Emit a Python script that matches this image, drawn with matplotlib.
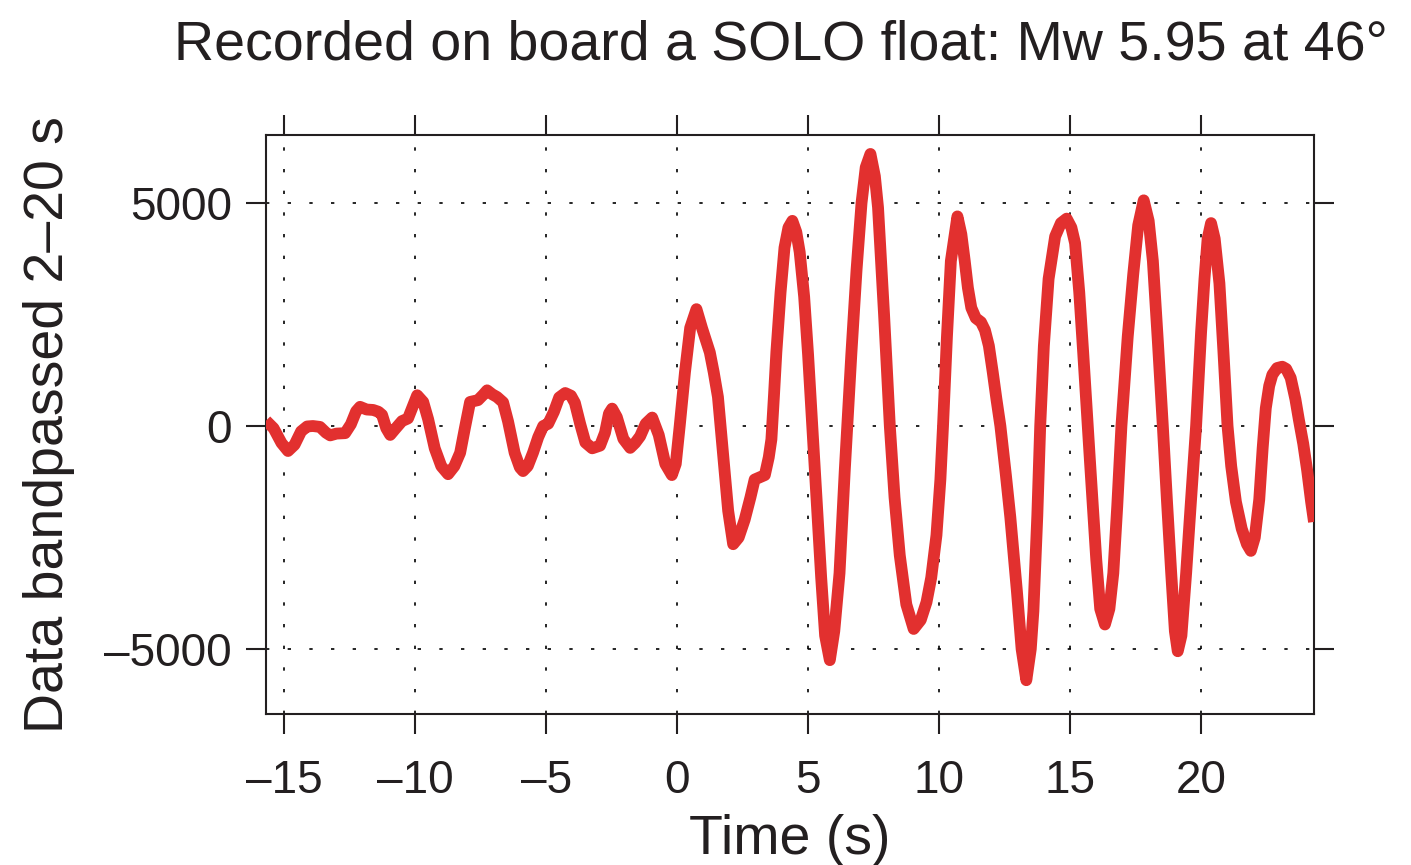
import numpy as np
import matplotlib
matplotlib.use("Agg")
import matplotlib.pyplot as plt

plt.rcParams['font.family'] = ['Liberation Sans', 'DejaVu Sans']

# trace: time (s) and bandpassed counts
time_s = [
    -15.69, -15.4, -15.1, -14.85, -14.6, -14.35, -14.12, -13.9, -13.63, -13.4,
    -13.24, -13.0, -12.67, -12.45, -12.25, -12.1, -11.85, -11.6, -11.4, -11.26,
    -11.1, -10.95, -10.75, -10.5, -10.27, -10.1, -9.92, -9.69, -9.5, -9.25,
    -9.0, -8.74, -8.5, -8.28, -8.1, -7.9, -7.6, -7.4, -7.25, -7.05,
    -6.87, -6.64, -6.45, -6.2, -6.0, -5.88, -5.7, -5.5, -5.3, -5.11,
    -4.92, -4.7, -4.5, -4.27, -4.05, -3.9, -3.7, -3.5, -3.24, -2.94,
    -2.75, -2.6, -2.48, -2.3, -2.05, -1.79, -1.6, -1.41, -1.2, -0.95,
    -0.7, -0.45, -0.2, -0.05, 0.1, 0.3, 0.5, 0.74, 0.95, 1.25,
    1.4, 1.56, 1.75, 1.95, 2.14, 2.35, 2.58, 2.8, 2.96, 3.15,
    3.35, 3.5, 3.6, 3.7, 3.79, 3.95, 4.1, 4.25, 4.4, 4.55,
    4.68, 4.85, 5.0, 5.15, 5.32, 5.5, 5.65, 5.83, 6.0, 6.2,
    6.4, 6.65, 6.85, 7.04, 7.2, 7.38, 7.55, 7.67, 7.9, 8.12,
    8.3, 8.5, 8.75, 9.03, 9.3, 9.52, 9.7, 9.9, 10.05, 10.15,
    10.3, 10.45, 10.7, 10.85, 10.98, 11.1, 11.23, 11.4, 11.6, 11.75,
    11.9, 12.05, 12.19, 12.34, 12.55, 12.72, 12.97, 13.15, 13.33, 13.5,
    13.6, 13.75, 13.86, 14.0, 14.18, 14.43, 14.65, 14.87, 15.05, 15.19,
    15.35, 15.5, 15.76, 16.0, 16.15, 16.33, 16.5, 16.65, 16.8, 16.96,
    17.2, 17.41, 17.6, 17.81, 18.0, 18.16, 18.35, 18.54, 18.7, 18.86,
    19.0, 19.11, 19.25, 19.43, 19.6, 19.81, 20.0, 20.13, 20.25, 20.38,
    20.52, 20.7, 20.85, 21.01, 21.15, 21.33, 21.55, 21.75, 21.9, 22.05,
    22.22, 22.35, 22.47, 22.6, 22.72, 22.9, 23.1, 23.25, 23.42, 23.6,
    23.73, 23.9, 24.05, 24.2, 24.31,
]
counts = [
    120, -50, -380, -560, -420, -120, -10, 0, -20, -150,
    -210, -170, -160, 40, 330, 430, 370, 360, 320, 250,
    -50, -200, -60, 110, 170, 420, 690, 540, 150, -500,
    -900, -1080, -900, -600, -50, 540, 580, 700, 800, 710,
    650, 530, 100, -600, -930, -1010, -900, -600, -250, 0,
    50, 320, 640, 740, 680, 520, 50, -370, -500, -440,
    -150, 280, 390, 200, -290, -490, -380, -230, 50, 190,
    -200, -850, -1100, -850, 0, 1200, 2200, 2620, 2200, 1650,
    1200, 650, -600, -1900, -2650, -2500, -2100, -1600, -1200, -1150,
    -1100, -700, -300, 700, 1660, 3000, 4000, 4450, 4600, 4350,
    3900, 2900, 1600, 100, -1600, -3400, -4700, -5250, -4600, -3300,
    -1000, 1600, 3500, 5000, 5800, 6100, 5600, 4900, 2500, 0,
    -1600, -2900, -4000, -4550, -4350, -3950, -3400, -2450, -1200, 0,
    2000, 3700, 4700, 4300, 3700, 3100, 2650, 2420, 2330, 2150,
    1800, 1200, 600, 0, -1100, -2050, -3700, -5000, -5700, -5000,
    -4150, -2000, 0, 1800, 3300, 4250, 4550, 4650, 4450, 4100,
    3000, 1650, -800, -3000, -4100, -4450, -4100, -3300, -1800, 0,
    2000, 3400, 4500, 5060, 4600, 3700, 1900, 0, -1700, -3300,
    -4600, -5050, -4700, -3300, -1800, 0, 2100, 3300, 4200, 4550,
    4200, 3200, 1700, 0, -900, -1700, -2300, -2650, -2800, -2500,
    -1650, -500, 400, 900, 1150, 1300, 1330, 1280, 1080, 600,
    150, -400, -1000, -1700, -2150,
]

x_ticks = [-15, -10, -5, 0, 5, 10, 15, 20]
y_ticks = [-5000, 0, 5000]
title = "Recorded on board a SOLO float: Mw 5.95 at 46\u00b0"

ink = '#231f20'
red = '#e2302f'

fig = plt.figure(figsize=(14.11, 8.65), dpi=100)
ax = fig.add_axes([266 / 1411, 1 - 714 / 865, 1048 / 1411, 579 / 865])

ax.plot(time_s, counts, color=red, lw=8.5, solid_joinstyle='round',
        solid_capstyle='butt', zorder=3)

ax.set_xlim(-15.69, 24.31)
ax.set_ylim(-6457, 6525)
ax.set_xticks(x_ticks)
ax.set_yticks(y_ticks)
ax.set_xticklabels([f"\u2013{-v}" if v < 0 else str(v) for v in x_ticks])
ax.set_yticklabels([f"\u2013{-v}" if v < 0 else str(v) for v in y_ticks])

ax.grid(True, color='black', lw=1.2, linestyle=(0, (2, 11)), zorder=1)
for sp in ax.spines.values():
    sp.set_color(ink)
    sp.set_linewidth(1.5)
ax.tick_params(direction='out', length=14.5, width=1.5, color=ink,
               labelsize=33, labelcolor=ink, top=True, right=True)
ax.tick_params(axis='x', pad=18)
ax.tick_params(axis='y', pad=10)

ax.set_xlabel("Time (s)", fontsize=40, color=ink, labelpad=8)
ax.set_ylabel("Data bandpassed 2\u201320 s", fontsize=40, color=ink, labelpad=21)
fig.text(781 / 1411, 1 - 60 / 865, title, fontsize=40, color=ink,
         ha='center', va='baseline')

fig.savefig("out.png", dpi=100)
